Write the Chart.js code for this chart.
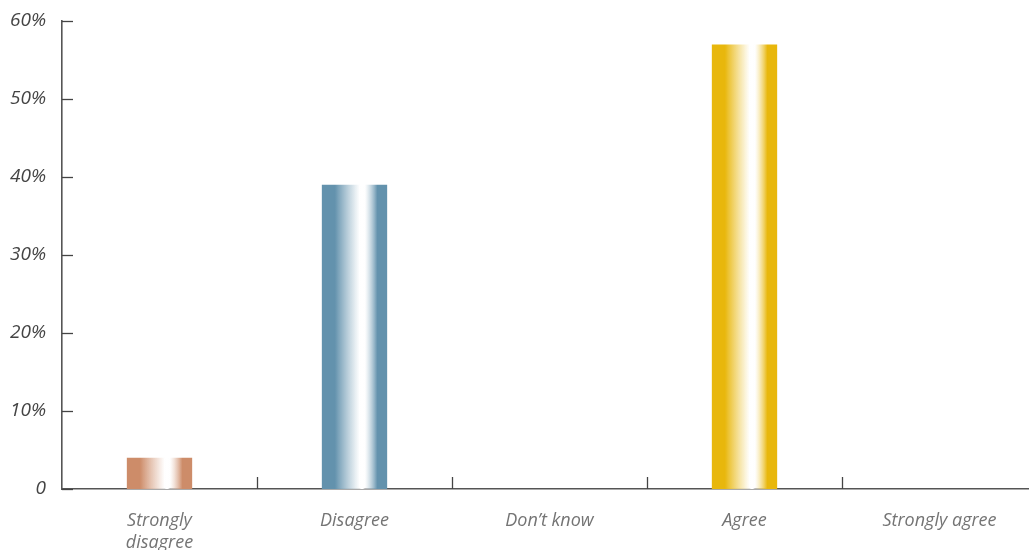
<!DOCTYPE html>
<html>
<head>
<meta charset="utf-8">
<script src="https://cdn.jsdelivr.net/npm/chart.js@4/dist/chart.umd.min.js"></script>
<style>
  html, body { margin: 0; padding: 0; background: #ffffff; overflow: hidden; }
  #wrap { width: 1037px; height: 550px; position: relative; }
</style>
</head>
<body>
<div id="wrap"><canvas id="chart"></canvas></div>
<script>
// Survey responses (% of respondents)
const categories = [["Strongly", "disagree"], "Disagree", "Don\u2019t know", "Agree", "Strongly agree"];
const shares = [4, 39, 0, 57, 0];
const barColors = ["#cd8c69", "#6392ad", "#e8b70c"];
const colorForIndex = [0, 1, 1, 2, 2];
const yTickValues = [0, 10, 20, 30, 40, 50, 60];

const BAR_FRACTION = 0.335;

// Horizontal metallic sheen: solid edges, fading to white with a thin gap
function sheen(ctx, left, right, base) {
  const g = ctx.createLinearGradient(left, 0, right, 0);
  g.addColorStop(0.0, base);
  g.addColorStop(0.2, base);
  g.addColorStop(0.58, "rgba(255,255,255,0.85)");
  g.addColorStop(0.60, "#ffffff");
  g.addColorStop(0.63, "#ffffff");
  g.addColorStop(0.66, "rgba(255,255,255,0.6)");
  g.addColorStop(0.85, base);
  g.addColorStop(1.0, base);
  return g;
}

// Short tick marks drawn inside the plot, at the scale's own positions
const innerTicks = {
  id: "innerTicks",
  afterDraw(chart) {
    const { ctx, chartArea, scales } = chart;
    ctx.save();
    ctx.strokeStyle = "#444";
    ctx.lineWidth = 1.3;
    const x = scales.x;
    for (let i = 1; i < categories.length; i++) {
      const px = Math.round((x.getPixelForValue(i - 1) + x.getPixelForValue(i)) / 2) + 0.5;
      ctx.beginPath();
      ctx.moveTo(px, chartArea.bottom);
      ctx.lineTo(px, chartArea.bottom - 12);
      ctx.stroke();
    }
    const y = scales.y;
    yTickValues.forEach(v => {
      const py = Math.round(y.getPixelForValue(v)) + 0.5;
      ctx.beginPath();
      ctx.moveTo(chartArea.left, py);
      ctx.lineTo(chartArea.left + 11, py);
      ctx.stroke();
    });
    ctx.restore();
  }
};

new Chart(document.getElementById("chart"), {
  type: "bar",
  data: {
    labels: categories,
    datasets: [{
      data: shares,
      borderWidth: 0,
      backgroundColor(c) {
        const chart = c.chart;
        const base = barColors[colorForIndex[c.dataIndex]];
        if (!chart.chartArea || c.dataIndex === undefined) return base;
        const xs = chart.scales.x;
        const cx = xs.getPixelForValue(c.dataIndex);
        const w = xs.width / categories.length * BAR_FRACTION;
        return sheen(chart.ctx, cx - w / 2, cx + w / 2, base);
      },
      barPercentage: BAR_FRACTION,
      categoryPercentage: 1.0
    }]
  },
  options: {
    responsive: true,
    maintainAspectRatio: false,
    animation: false,
    layout: { padding: { top: 21, right: 0, left: 0, bottom: 0 } },
    plugins: {
      legend: { display: false },
      tooltip: { enabled: false }
    },
    scales: {
      x: {
        grid: { display: false, drawTicks: false },
        border: { display: true, color: "#555", width: 1.6 },
        ticks: {
          color: "#747474",
          padding: 21,
          maxRotation: 0,
          autoSkip: false,
          font: { family: "'Open Sans', 'Noto Sans', sans-serif", size: 18, style: "italic", lineHeight: 1.2 }
        },
        afterFit(s) { s.height = 61; s.paddingLeft = 0; s.paddingRight = 0; }
      },
      y: {
        min: 0,
        max: 60,
        grid: { display: false, drawTicks: false },
        border: { display: true, color: "#555", width: 1.6 },
        afterBuildTicks(s) { s.ticks = yTickValues.map(v => ({ value: v })); },
        ticks: {
          color: "#444",
          padding: 16,
          font: { family: "'Open Sans', 'Noto Sans', sans-serif", size: 19, style: "italic" },
          callback: v => v === 0 ? "0" : v + "%"
        },
        afterFit(s) { s.width = 62; s.paddingTop = 0; s.paddingBottom = 0; }
      }
    }
  },
  plugins: [innerTicks]
});
</script>
</body>
</html>
